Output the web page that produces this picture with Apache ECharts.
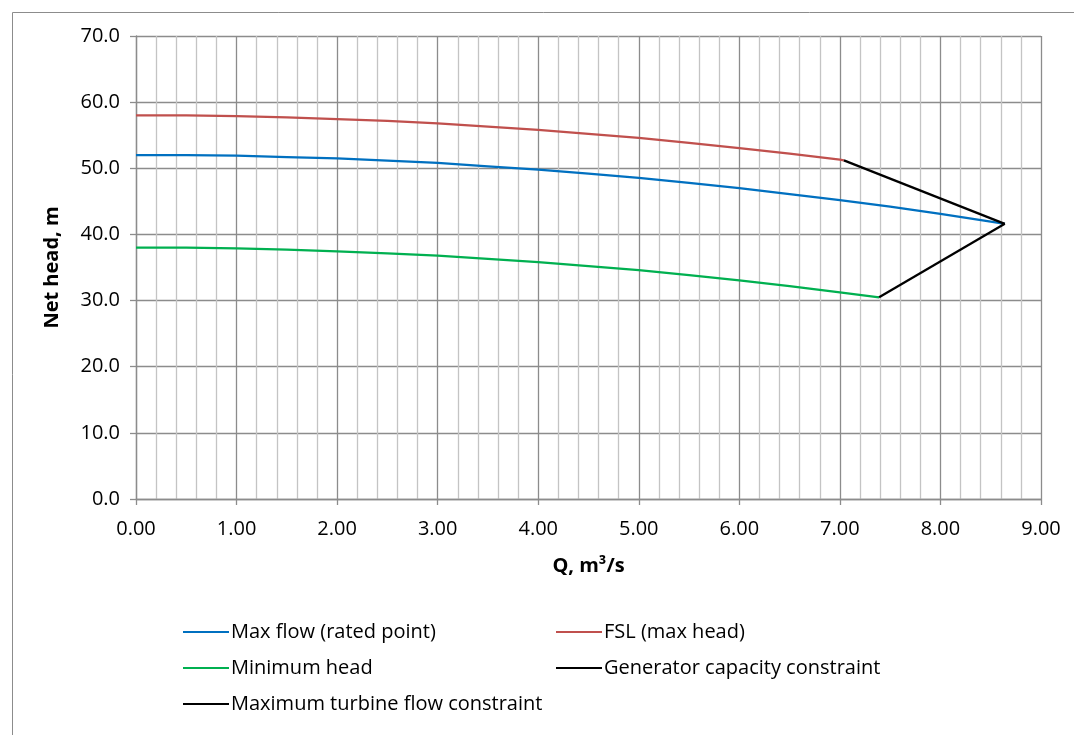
<!DOCTYPE html>
<html>
<head>
<meta charset="utf-8">
<title>Turbine operating envelope</title>
<script src="https://cdn.jsdelivr.net/npm/echarts@6/dist/echarts.min.js"></script>
<style>
  html, body { margin: 0; padding: 0; background: #ffffff; }
  #chart { width: 1074px; height: 735px; }
</style>
</head>
<body>
<div id="chart"></div>
<script>
// Flow (m³/s) and net head (m) along each boundary of the operating range
const qMaxFlow = [0, 0.5, 1, 1.5, 2, 2.5, 3, 3.5, 4, 4.5, 5, 5.5, 6, 6.5, 7, 7.5, 8, 8.5, 8.64];
const hMaxFlow = [52.0, 52.0, 51.9, 51.7, 51.5, 51.15, 50.8, 50.3, 49.8, 49.2, 48.55, 47.8, 47.0, 46.1, 45.2, 44.2, 43.1, 41.95, 41.6];

const qFsl = [0, 0.5, 1, 1.5, 2, 2.5, 3, 3.5, 4, 4.5, 5, 5.5, 6, 6.5, 7, 7.04];
const hFsl = [58.0, 58.0, 57.9, 57.7, 57.45, 57.15, 56.8, 56.3, 55.8, 55.2, 54.6, 53.85, 53.05, 52.2, 51.3, 51.2];

const qMinHead = [0, 0.5, 1, 1.5, 2, 2.5, 3, 3.5, 4, 4.5, 5, 5.5, 6, 6.5, 7, 7.39];
const hMinHead = [38.0, 38.0, 37.9, 37.7, 37.45, 37.15, 36.8, 36.3, 35.8, 35.2, 34.6, 33.85, 33.05, 32.2, 31.25, 30.5];

const qGenerator = [7.04, 8.64];
const hGenerator = [51.2, 41.6];

const qTurbine = [7.39, 8.64];
const hTurbine = [30.5, 41.6];

const seriesNames = [
  'Max flow (rated point)',
  'FSL (max head)',
  'Minimum head',
  'Generator capacity constraint',
  'Maximum turbine flow constraint'
];
const seriesColors = ['#0070C0', '#C0504D', '#00B050', '#000000', '#000000'];

const xTicks = { min: 0, max: 9, step: 1 };
const yTicks = { min: 0, max: 70, step: 10 };

function pairs(qs, hs) {
  return qs.map((q, i) => [q, hs[i]]);
}

const curves = [
  pairs(qMaxFlow, hMaxFlow),
  pairs(qFsl, hFsl),
  pairs(qMinHead, hMinHead),
  pairs(qGenerator, hGenerator),
  pairs(qTurbine, hTurbine)
];

const FONT = '"Open Sans", "Noto Sans", sans-serif';
const MAJOR = '#8C8C8C';
const MINOR = '#C4C4C4';

// legend laid out as a two-column grid, one component per entry
const legendSlots = [
  { left: 183, top: 621 },
  { left: 556, top: 621 },
  { left: 183, top: 657 },
  { left: 556, top: 657 },
  { left: 183, top: 693 }
];

const chart = echarts.init(document.getElementById('chart'), null, { renderer: 'canvas' });

chart.setOption({
  animation: false,
  backgroundColor: '#ffffff',
  textStyle: { fontFamily: FONT },
  graphic: [{
    type: 'rect',
    left: 10, top: 10,
    shape: { width: 1200, height: 900 },
    style: { fill: 'none', stroke: '#8C8C8C', lineWidth: 1 },
    silent: true
  }],
  grid: { left: 136, right: 33, top: 36, bottom: 236, containLabel: false },
  legend: legendSlots.map((pos, i) => ({
    data: [seriesNames[i]],
    left: pos.left,
    top: pos.top,
    padding: 0,
    icon: 'rect',
    itemWidth: 46,
    itemHeight: 2,
    selectedMode: false,
    textStyle: { fontFamily: FONT, fontSize: 20, color: '#000000', lineHeight: 22, padding: [0, 0, 0, -3] }
  })),
  xAxis: {
    type: 'value',
    min: xTicks.min, max: xTicks.max, interval: xTicks.step,
    name: 'Q, m³/s',
    nameLocation: 'middle',
    nameGap: 57,
    nameTextStyle: { fontFamily: FONT, fontSize: 20, fontWeight: 'bold', color: '#000000' },
    axisLine: { show: true, lineStyle: { color: MAJOR, width: 1.3 } },
    axisTick: { show: true, length: 6, inside: false, lineStyle: { color: MAJOR, width: 1.3 } },
    axisLabel: {
      margin: 20,
      fontFamily: FONT, fontSize: 20, color: '#000000',
      formatter: v => v.toFixed(2)
    },
    splitLine: { show: true, lineStyle: { color: MAJOR, width: 1.3 } },
    minorTick: { show: false, splitNumber: 5 },
    minorSplitLine: { show: true, lineStyle: { color: MINOR, width: 1.3 } }
  },
  yAxis: {
    type: 'value',
    min: yTicks.min, max: yTicks.max, interval: yTicks.step,
    name: 'Net head, m',
    nameLocation: 'middle',
    nameGap: 74,
    nameTextStyle: { fontFamily: FONT, fontSize: 20, fontWeight: 'bold', color: '#000000' },
    axisLine: { show: true, lineStyle: { color: MAJOR, width: 1.3 } },
    axisTick: { show: true, length: 6, inside: false, lineStyle: { color: MAJOR, width: 1.3 } },
    axisLabel: {
      margin: 16,
      fontFamily: FONT, fontSize: 20, color: '#000000',
      formatter: v => v.toFixed(1)
    },
    splitLine: { show: true, lineStyle: { color: MAJOR, width: 1.3 } }
  },
  series: curves.map((data, i) => ({
    name: seriesNames[i],
    type: 'line',
    data: data,
    smooth: false,
    showSymbol: false,
    symbol: 'none',
    color: seriesColors[i],
    lineStyle: { color: seriesColors[i], width: 2.25 },
    z: 3 + (i >= 3 ? 1 : 0)
  }))
});
</script>
</body>
</html>
